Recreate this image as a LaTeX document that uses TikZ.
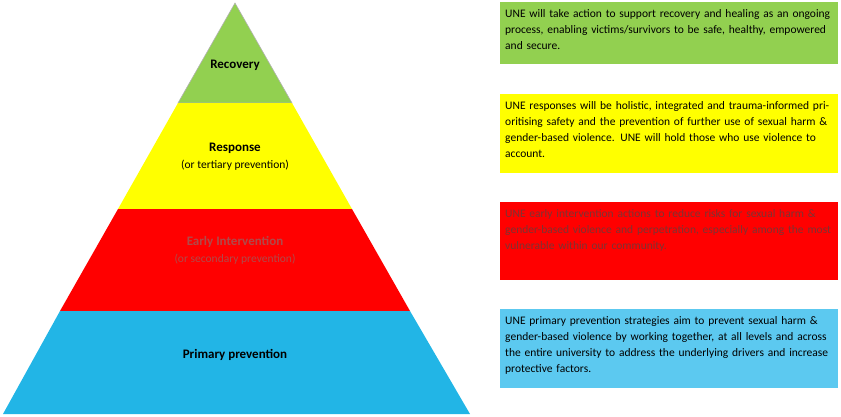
\documentclass[tikz,border=0pt]{standalone}
\usepackage{fontspec}
\setmainfont{Carlito}
\begin{document}
\begin{tikzpicture}[x=1pt,y=-1pt,
  band/.style={draw=gray!60,line width=0.6pt},
  desc/.style={anchor=north west,align=left,text width=328pt,inner sep=0pt,font=\fontsize{11.5}{16}\selectfont},
  lbl/.style={font=\bfseries\fontsize{13}{15}\selectfont,align=center}]
\useasboundingbox (0,0) rectangle (841,416);
\definecolor{cg}{HTML}{92D050}\definecolor{cy}{HTML}{FFFF00}
\definecolor{cr}{HTML}{FF0000}\definecolor{cb}{HTML}{22B5E6}\definecolor{cbl}{HTML}{5CC9F0}
\definecolor{cdr}{HTML}{B04A4A}
\coordinate (apex) at (235,3);
\fill[cg,band] (apex) -- (292,103) -- (178,103) -- cycle;
\fill[cy] (178,103) -- (292,103) -- (352,209) -- (118,209) -- cycle;
\fill[cr] (118,209) -- (352,209) -- (410,311) -- (60,311) -- cycle;
\fill[cb] (60,311) -- (410,311) -- (470,414) -- (3,414) -- cycle;
\node[lbl] (rec) at (235,65) {Recovery};
\node[lbl] (res) at (235,148) {Response};
\node[font=\fontsize{11.5}{14}\selectfont] (res2) at (235,165) {(or tertiary prevention)};
\node[lbl,text=cdr] (ei) at (235,242) {Early Intervention};
\node[font=\fontsize{11.5}{14}\selectfont,text=cdr] (ei2) at (235,259) {(or secondary prevention)};
\node[lbl] (pp) at (235,355) {Primary prevention};
\fill[cg] (500,2) rectangle (838,64);
\fill[cy] (500,94) rectangle (838,173);
\fill[cr] (500,202) rectangle (838,280);
\fill[cbl] (500,309) rectangle (838,388);
\node[desc] (d1) at (505,9) {UNE will take action to support recovery and healing as an ongoing process, enabling victims/survivors to be safe, healthy, empowered and secure.};
\node[desc] (d2) at (505,101) {UNE responses will be holistic, integrated and trauma-informed prioritising safety and the prevention of further use of sexual harm \& gender-based violence. UNE will hold those who use violence to account.};
\node[desc,text=cdr!70!black] (d3) at (505,209) {UNE early intervention actions to reduce risks for sexual harm \& gender-based violence and perpetration, especially among the most vulnerable within our community.};
\node[desc] (d4) at (505,316) {UNE primary prevention strategies aim to prevent sexual harm \& gender-based violence by working together, at all levels and across the entire university to address the underlying drivers and increase protective factors.};
\end{tikzpicture}
\end{document}
